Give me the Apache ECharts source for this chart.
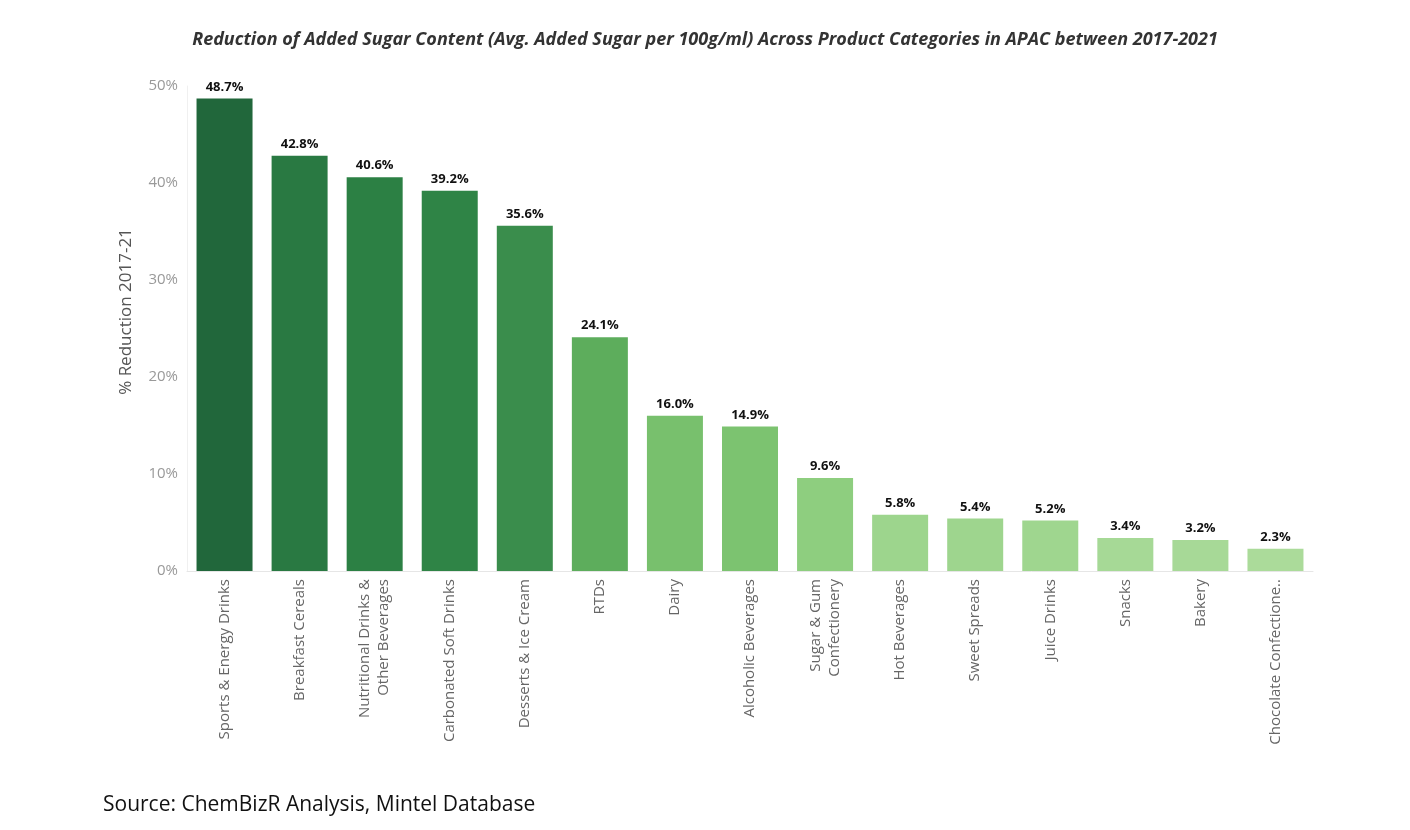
<!DOCTYPE html>
<html lang="en">
<head>
    <meta charset="UTF-8">
    <title>Added Sugar Reduction APAC</title>
    <script src="https://cdn.jsdelivr.net/npm/echarts@6/dist/echarts.min.js"></script>
    <style>
        *{margin:0;padding:0;}
        body{background:#fff;overflow:hidden;}
        #main{width:1410px;height:830px;}
    </style>
</head>
<body>
<div id="main"></div>
<script>
    // data
    var categories = [
        'Sports & Energy Drinks',
        'Breakfast Cereals',
        'Nutritional Drinks &\nOther Beverages',
        'Carbonated Soft Drinks',
        'Desserts & Ice Cream',
        'RTDs',
        'Dairy',
        'Alcoholic Beverages',
        'Sugar & Gum\nConfectionery',
        'Hot Beverages',
        'Sweet Spreads',
        'Juice Drinks',
        'Snacks',
        'Bakery',
        'Chocolate Confectione..'
    ];
    var reduction = [48.7, 42.8, 40.6, 39.2, 35.6, 24.1, 16.0, 14.9, 9.6, 5.8, 5.4, 5.2, 3.4, 3.2, 2.3];
    var yTicks = [0, 10, 20, 30, 40, 50];

    var myChart = echarts.init(document.getElementById('main'));

    var option = {
        animation: false,
        title: [
            {
                text: 'Reduction of Added Sugar Content (Avg. Added Sugar per 100g/ml) Across Product Categories in APAC between 2017-2021',
                left: 'center',
                top: 26,
                textStyle: {
                    fontFamily: 'Open Sans',
                    fontStyle: 'italic',
                    fontWeight: 'bold',
                    fontSize: 18,
                    color: '#333'
                }
            },
            {
                text: 'Source: ChemBizR Analysis, Mintel Database',
                left: 98,
                top: 790,
                textStyle: {
                    fontFamily: 'Open Sans',
                    fontWeight: 'normal',
                    fontSize: 21,
                    color: '#111'
                }
            }
        ],
        visualMap: {
            show: false,
            type: 'continuous',
            min: 0,
            max: 50,
            dimension: 1,
            inRange: {
                color: ['#b4dfa3', '#8ccd7d', '#6bb862', '#4a9c54', '#2d8245', '#1f6339']
            }
        },
        grid: {
            left: 187,
            right: 97,
            top: 86,
            bottom: 259
        },
        xAxis: {
            type: 'category',
            data: categories,
            axisTick: {show: false},
            axisLine: {lineStyle: {color: '#e6e6e6'}},
            axisLabel: {
                rotate: 90,
                interval: 0,
                margin: 8,
                color: '#666',
                fontFamily: 'Open Sans',
                fontSize: 15,
                lineHeight: 19
            }
        },
        yAxis: {
            type: 'value',
            min: 0,
            max: 50,
            interval: 10,
            name: '% Reduction 2017-21',
            nameLocation: 'middle',
            nameGap: 52,
            nameTextStyle: {
                color: '#555',
                fontFamily: 'Open Sans',
                fontSize: 17,
                padding: [0, 0, 0, 34]
            },
            splitLine: {show: false},
            axisTick: {show: false},
            axisLine: {show: true, lineStyle: {color: '#f0f0f0'}},
            axisLabel: {
                color: '#999',
                fontFamily: 'Open Sans',
                fontSize: 15,
                margin: 9,
                formatter: function (v) {
                    return yTicks.indexOf(v) >= 0 ? v + '%' : '';
                }
            }
        },
        series: [
            {
                type: 'bar',
                data: reduction,
                barWidth: 56,
                label: {
                    show: true,
                    position: 'top',
                    distance: 5,
                    color: '#111',
                    fontFamily: 'Open Sans',
                    fontWeight: 'bold',
                    fontSize: 13,
                    formatter: function (p) {
                        return p.value.toFixed(1) + '%';
                    }
                }
            }
        ]
    };

    myChart.setOption(option);
    window.onresize = myChart.resize;
</script>
</body>
</html>
